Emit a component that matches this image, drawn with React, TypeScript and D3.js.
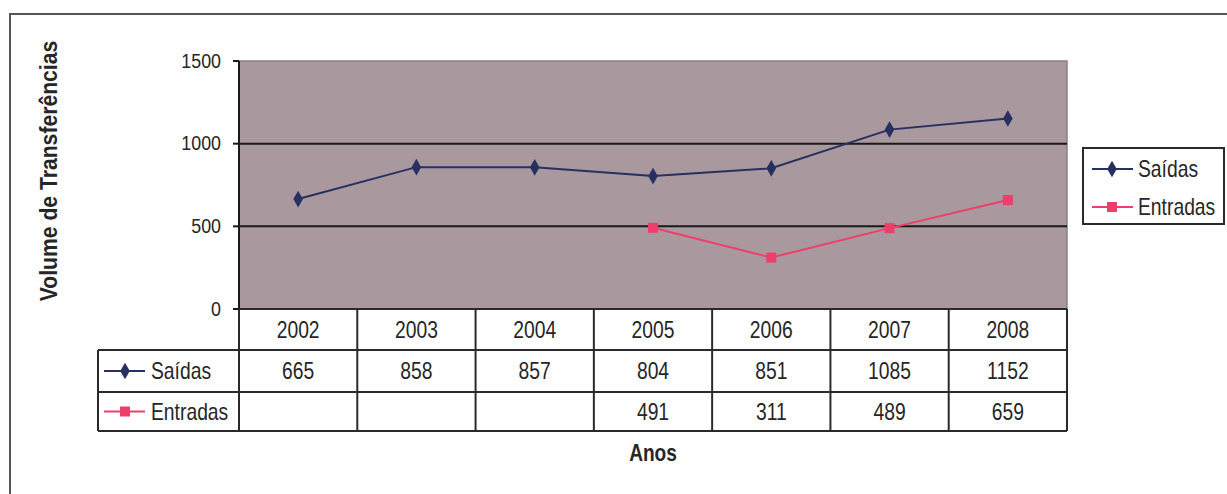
import React from "react";
import * as d3 from "d3";

const years = ["2002", "2003", "2004", "2005", "2006", "2007", "2008"];
const saidas: (number | null)[] = [665, 858, 857, 804, 851, 1085, 1152];
const entradas: (number | null)[] = [null, null, null, 491, 311, 489, 659];
const yTicks = [0, 500, 1000, 1500];
const seriesNames = ["Saídas", "Entradas"];

const W = 1227;
const H = 494;
const FONT = "Arial, 'Liberation Sans', sans-serif";
const TXT = "#262626";
const NAVY = "#283061";
const PINK = "#ee3f6c";

function T(props: {
  x: number;
  y: number;
  size: number;
  sx?: number;
  anchor?: string;
  bold?: boolean;
  rotate?: number;
  children: React.ReactNode;
}) {
  const { x, y, size, sx = 0.84, anchor = "middle", bold, rotate = 0, children } = props;
  return (
    <text
      transform={`translate(${x},${y}) rotate(${rotate}) scale(${sx},1)`}
      fontFamily={FONT}
      fontSize={size}
      fontWeight={bold ? "bold" : "normal"}
      textAnchor={anchor}
      dominantBaseline="central"
      fill={TXT}
    >
      {children}
    </text>
  );
}

export default function App() {
  const plotLeft = 239;
  const plotRight = 1067;
  const plotTop = 61;
  const plotBottom = 309;

  const x = d3.scaleBand<string>().domain(years).range([plotLeft, plotRight]);
  const y = d3.scaleLinear().domain([0, 1500]).range([plotBottom, plotTop]);
  const cx = (yr: string) => (x(yr) ?? 0) + x.bandwidth() / 2;

  const line = d3
    .line<number | null>()
    .defined((d) => d != null)
    .x((_, i) => cx(years[i]))
    .y((d) => y(d as number));

  const diamond = d3.symbol(d3.symbolDiamond, 80)() ?? "";
  const square = d3.symbol(d3.symbolSquare, 100)() ?? "";

  const tableLeft = 98;
  const rowTops = [plotBottom, 350, 392, 431];
  const series = [
    { name: seriesNames[0], values: saidas, color: NAVY, marker: diamond },
    { name: seriesNames[1], values: entradas, color: PINK, marker: square },
  ];

  const lineCol = "#2a2a2a";

  return (
    <svg
      width={W}
      height={H}
      style={{ position: "absolute", left: 0, top: 0, background: "#fff" }}
    >
      {/* chart frame */}
      <rect x={10} y={14} width={1400} height={700} fill="#fff" stroke="#555" strokeWidth={2} />

      {/* plot area */}
      <rect
        x={plotLeft}
        y={plotTop}
        width={plotRight - plotLeft}
        height={plotBottom - plotTop}
        fill="#a9999e"
        stroke="#8a8088"
        strokeWidth={1.5}
      />
      {yTicks
        .filter((t) => t > 0 && t < 1500)
        .map((t) => (
          <line key={t} x1={plotLeft} x2={plotRight} y1={y(t)} y2={y(t)} stroke="#1a1a1a" strokeWidth={2} />
        ))}

      {/* y axis */}
      <line x1={plotLeft} x2={plotLeft} y1={plotTop} y2={plotBottom} stroke="#1a1a1a" strokeWidth={2} />
      {yTicks.map((t) => (
        <g key={t}>
          <line x1={plotLeft - 6} x2={plotLeft} y1={y(t)} y2={y(t)} stroke="#1a1a1a" strokeWidth={2} />
          <T x={plotLeft - 18} y={y(t) - 1} size={21} sx={0.85} anchor="end">
            {t}
          </T>
        </g>
      ))}
      <T x={49} y={171} size={23} sx={0.92} bold rotate={-90}>
        Volume de Transferências
      </T>

      {/* series */}
      {series.map((s) => (
        <g key={s.name}>
          <path d={line(s.values) ?? ""} fill="none" stroke={s.color} strokeWidth={2} />
          {s.values.map((v, i) =>
            v == null ? null : (
              <path key={i} d={s.marker} transform={`translate(${cx(years[i])},${y(v)})`} fill={s.color} />
            )
          )}
        </g>
      ))}

      {/* data table */}
      <g stroke={lineCol} strokeWidth={2} fill="none">
        <line x1={plotLeft} x2={plotRight} y1={plotBottom} y2={plotBottom} />
        <line x1={tableLeft} x2={plotRight} y1={rowTops[1]} y2={rowTops[1]} />
        <line x1={tableLeft} x2={plotRight} y1={rowTops[2]} y2={rowTops[2]} />
        <line x1={tableLeft} x2={plotRight} y1={rowTops[3]} y2={rowTops[3]} />
        <line x1={tableLeft} x2={tableLeft} y1={rowTops[1]} y2={rowTops[3]} />
        {years.map((yr) => (
          <line key={yr} x1={x(yr) ?? 0} x2={x(yr) ?? 0} y1={plotBottom} y2={rowTops[3]} />
        ))}
        <line x1={plotRight} x2={plotRight} y1={plotBottom} y2={rowTops[3]} />
      </g>
      {years.map((yr) => (
        <T key={yr} x={cx(yr)} y={(rowTops[0] + rowTops[1]) / 2} size={23}>
          {yr}
        </T>
      ))}
      {series.map((s, r) => {
        const yc = (rowTops[r + 1] + rowTops[r + 2]) / 2;
        return (
          <g key={s.name}>
            <line x1={104} x2={145} y1={yc} y2={yc} stroke={s.color} strokeWidth={2} />
            <path d={s.marker} transform={`translate(125,${yc})`} fill={s.color} />
            <T x={151} y={yc} size={23} anchor="start">
              {s.name}
            </T>
            {s.values.map((v, i) =>
              v == null ? null : (
                <T key={i} x={cx(years[i])} y={yc} size={23}>
                  {v}
                </T>
              )
            )}
          </g>
        );
      })}
      <T x={(plotLeft + plotRight) / 2} y={453} size={23} sx={0.83} bold>
        Anos
      </T>

      {/* legend */}
      <rect x={1083} y={148} width={141} height={76} fill="#fff" stroke={lineCol} strokeWidth={2} />
      {series.map((s, i) => {
        const yc = 169 + i * 38;
        return (
          <g key={s.name}>
            <line x1={1092} x2={1133} y1={yc} y2={yc} stroke={s.color} strokeWidth={2} />
            <path d={s.marker} transform={`translate(1112,${yc})`} fill={s.color} />
            <T x={1138} y={yc} size={23} anchor="start">
              {s.name}
            </T>
          </g>
        );
      })}
    </svg>
  );
}
